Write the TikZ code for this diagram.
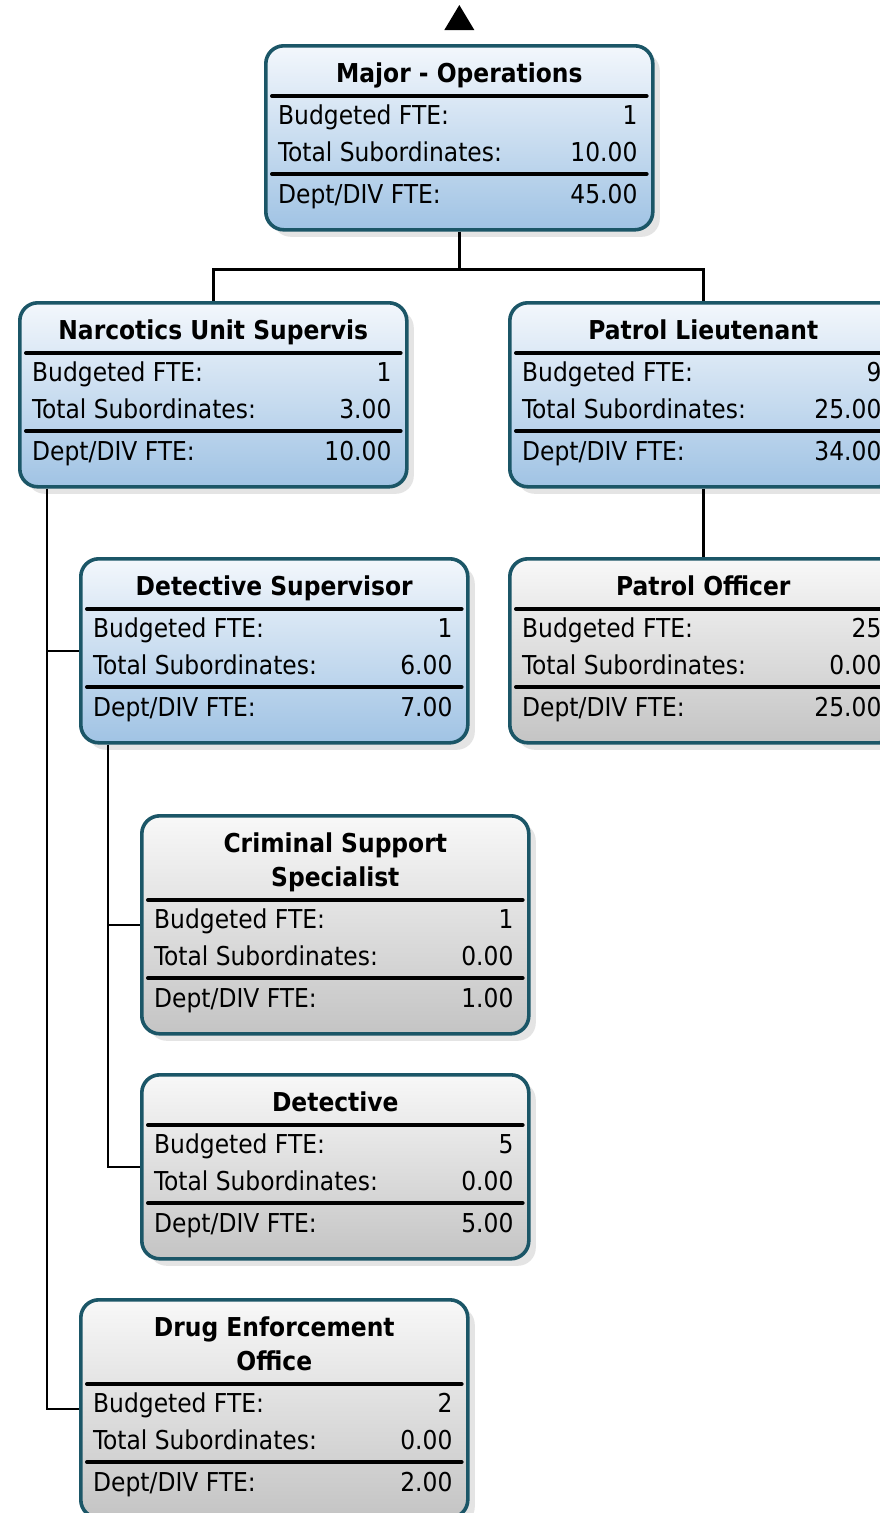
\documentclass[tikz,border=0pt]{standalone}
\usepackage{fontspec}
\setmainfont{DejaVu Sans Condensed}
\usepackage{tikz}
\usetikzlibrary{positioning,shadows}
\usepackage{xcolor}

\definecolor{postedge}{HTML}{1B5667}
\definecolor{bluetop}{HTML}{F3F7FC}
\definecolor{bluebot}{HTML}{A0C3E4}
\definecolor{greytop}{HTML}{F8F8F8}
\definecolor{greybot}{HTML}{C4C4C4}
\definecolor{shadowgrey}{HTML}{E4E4E4}

\tikzset{
  postbox/.style={draw=postedge, line width=3.6pt, rounded corners=18pt,
    anchor=north west, minimum width=387pt, inner sep=0pt,
    drop shadow={shadow xshift=7pt, shadow yshift=-7pt, fill=shadowgrey, opacity=1}},
  bluepost/.style={postbox, top color=bluetop, bottom color=bluebot},
  greypost/.style={postbox, top color=greytop, bottom color=greybot},
  posttitle/.style={inner sep=0pt, align=center, font=\fontsize{26}{34}\selectfont\bfseries},
  rowtext/.style={inner sep=0pt, font=\fontsize{26}{30}\selectfont},
  sepline/.style={line width=4pt, line cap=round},
  link/.style={line width=2.4pt}
}

% #1 name, #2 style and place, #3 title height, #4 title, #5 budgeted, #6 subordinates, #7 dept/div
\newcommand{\post}[7]{%
  \node[#2, minimum height=#3pt+132pt] (#1) {};
  \node[posttitle, anchor=base] (#1-title) at ([yshift=-#3pt+14pt]#1.north) {#4};
  \draw[sepline] ([shift={(8pt,-#3pt)}]#1.north west) -- ([shift={(-8pt,-#3pt)}]#1.north east);
  \node[rowtext, anchor=base west] (#1-bl) at ([shift={(14pt,-#3pt-28pt)}]#1.north west) {Budgeted FTE:};
  \node[rowtext, anchor=base east] (#1-bv) at ([shift={(-17pt,-#3pt-28pt)}]#1.north east) {#5};
  \node[rowtext, anchor=base west] (#1-sl) at ([shift={(14pt,-#3pt-65pt)}]#1.north west) {Total Subordinates:};
  \node[rowtext, anchor=base east] (#1-sv) at ([shift={(-17pt,-#3pt-65pt)}]#1.north east) {#6};
  \draw[sepline] ([shift={(8pt,-#3pt-78pt)}]#1.north west) -- ([shift={(-8pt,-#3pt-78pt)}]#1.north east);
  \node[rowtext, anchor=base west] (#1-dl) at ([shift={(14pt,-#3pt-107pt)}]#1.north west) {Dept/DIV FTE:};
  \node[rowtext, anchor=base east] (#1-dv) at ([shift={(-17pt,-#3pt-107pt)}]#1.north east) {#7};
}

\begin{document}
\begin{tikzpicture}[x=1pt, y=-1pt]
\useasboundingbox[fill=white] (0,0) rectangle (879,1513);

% posts
\post{maj}{bluepost, at={(264,44)}}{52}{Major - Operations}{1}{10.00}{45.00}
\post{nus}{bluepost, at={(18,301)}}{52}{Narcotics Unit Supervis}{1}{3.00}{10.00}
\post{plt}{bluepost, at={(508,301)}}{52}{Patrol Lieutenant}{9}{25.00}{34.00}
\post{po}{greypost, at={(508,557)}}{52}{Patrol Officer}{25}{0.00}{25.00}
\post{ds}{bluepost, at={(79,557)}}{52}{Detective Supervisor}{1}{6.00}{7.00}
\post{css}{greypost, at={(140,814)}}{86}{Criminal Support\\Specialist}{1}{0.00}{1.00}
\post{det}{greypost, at={(140,1073)}}{52}{Detective}{5}{0.00}{5.00}
\post{deo}{greypost, at={(79,1298)}}{86}{Drug Enforcement\\Office}{2}{0.00}{2.00}

% collapsed superior marker
\coordinate (maj-up) at ([yshift=39pt]maj.north);
\fill (maj-up) -- ++(-15,25) -- ++(30,0) -- cycle;

% links
\coordinate (maj-j) at ([yshift=-38pt]maj.south);
\draw[link] (maj.south) -- (maj-j) -| (nus.north);
\draw[link] (maj-j) -| (plt.north);
\draw[link] (plt.south) -- (po.north);
\coordinate (nus-j) at ([xshift=29pt]nus.south west);
\draw[link] (nus-j) |- (ds.west);
\draw[link] (nus-j) |- (deo.west);
\coordinate (ds-j) at ([xshift=29pt]ds.south west);
\draw[link] (ds-j) |- (css.west);
\draw[link] (ds-j) |- (det.west);
\end{tikzpicture}
\end{document}
